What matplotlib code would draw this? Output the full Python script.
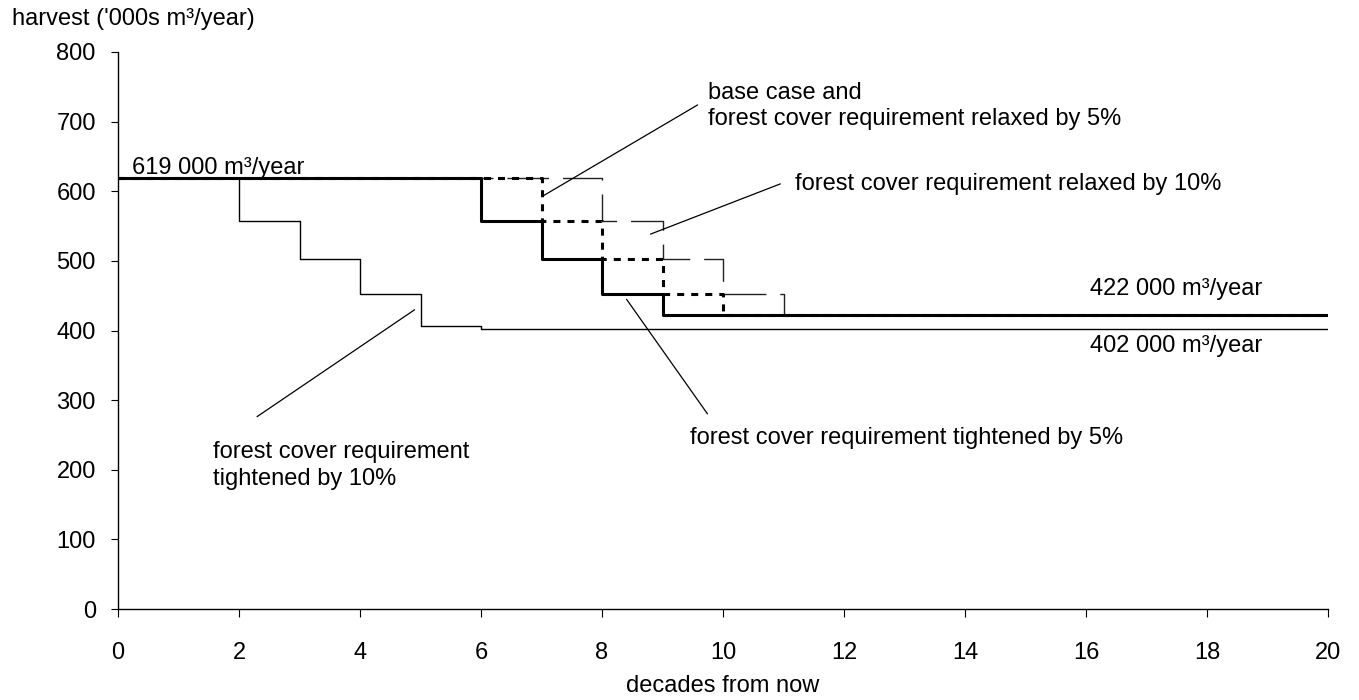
import matplotlib
matplotlib.use("Agg")
import matplotlib.pyplot as plt

plt.rcParams['font.family'] = ['Liberation Sans', 'DejaVu Sans']

# harvest ('000s m3/year) at the start of each decade, 0..20
decades = list(range(0, 21))
tight10 = [619, 619, 557, 502, 452, 406, 402, 402, 402, 402, 402,
           402, 402, 402, 402, 402, 402, 402, 402, 402, 402]
tight5 = [619, 619, 619, 619, 619, 619, 557, 502, 452, 422, 422,
          422, 422, 422, 422, 422, 422, 422, 422, 422, 422]
base = [619, 619, 619, 619, 619, 619, 619, 557, 502, 452, 422,
        422, 422, 422, 422, 422, 422, 422, 422, 422, 422]
relax10 = [619, 619, 619, 619, 619, 619, 619, 619, 557, 502, 452,
           422, 422, 422, 422, 422, 422, 422, 422, 422, 422]

x_ticks = [0, 2, 4, 6, 8, 10, 12, 14, 16, 18, 20]
y_ticks = [0, 100, 200, 300, 400, 500, 600, 700, 800]

fs = 17

fig = plt.figure(figsize=(13.59, 7.0), dpi=100)
ax = fig.add_axes([118 / 1359, 1 - 609 / 700, 1210 / 1359, 557 / 700])

ax.step(decades, tight10, where="post", color="black", lw=1.0)
ax.step(decades, relax10, where="post", color="#222222", lw=1.0,
        linestyle=(0, (30, 10)))
ax.step(decades, tight5, where="post", color="black", lw=2.2)
ax.step(decades, base, where="post", color="black", lw=2.2,
        linestyle=(0, (2.3, 2.3)))

ax.set_xlim(0, 20)
ax.set_ylim(0, 800)
ax.set_xticks(x_ticks)
ax.set_yticks(y_ticks)
ax.tick_params(axis="x", labelsize=fs, length=6, pad=18, direction="out")
ax.tick_params(axis="y", labelsize=fs, length=5, pad=11, direction="out")
for s in ["top", "right"]:
    ax.spines[s].set_visible(False)
for s in ["left", "bottom"]:
    ax.spines[s].set_linewidth(1.0)

# labels with leader lines
lw_lead = 0.9
ax.annotate("", xy=(7.0, 592), xytext=(9.62, 726),
            arrowprops=dict(arrowstyle="-", lw=lw_lead, color="black"))
ax.text(9.75, 722, "base case and\nforest cover requirement relaxed by 5%",
        fontsize=fs, va="center", ha="left", linespacing=1.25)

ax.annotate("", xy=(8.76, 537), xytext=(10.99, 612),
            arrowprops=dict(arrowstyle="-", lw=lw_lead, color="black"))
ax.text(11.19, 611, "forest cover requirement relaxed by 10%",
        fontsize=fs, va="center", ha="left")

ax.annotate("", xy=(8.38, 448), xytext=(9.77, 277),
            arrowprops=dict(arrowstyle="-", lw=lw_lead, color="black"))
ax.text(9.45, 246, "forest cover requirement tightened by 5%",
        fontsize=fs, va="center", ha="left")

ax.annotate("", xy=(4.94, 432), xytext=(2.26, 274),
            arrowprops=dict(arrowstyle="-", lw=lw_lead, color="black"))
ax.text(1.57, 206, "forest cover requirement\ntightened by 10%",
        fontsize=fs, va="center", ha="left", linespacing=1.25)

ax.text(0.23, 633, "619 000 m³/year", fontsize=fs, va="center", ha="left")
ax.text(16.07, 460, "422 000 m³/year", fontsize=fs, va="center", ha="left")
ax.text(16.07, 378, "402 000 m³/year", fontsize=fs, va="center", ha="left")

fig.text(12 / 1359, 1 - 19 / 700, "harvest ('000s m³/year)", fontsize=fs,
         va="center", ha="left")
fig.text(723 / 1359, 1 - 686 / 700, "decades from now", fontsize=fs,
         va="center", ha="center")

fig.savefig("out.png", dpi=100)
